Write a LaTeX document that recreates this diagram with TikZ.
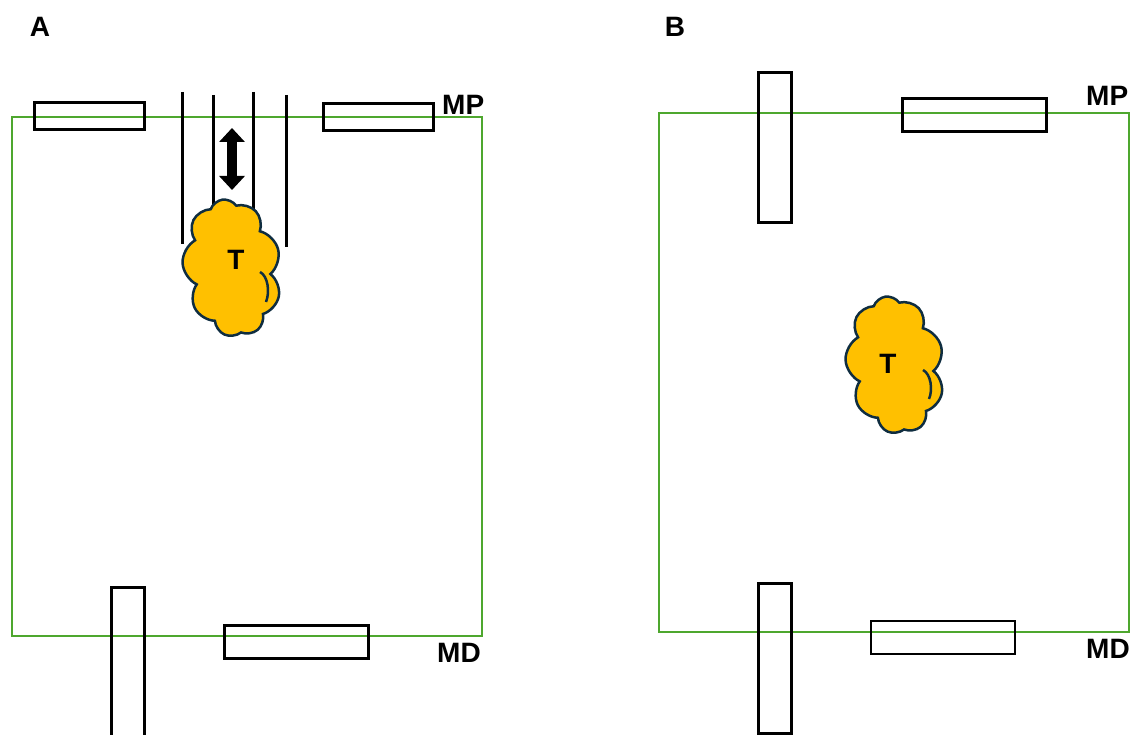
\documentclass[tikz,border=0pt]{standalone}
\usepackage{fontspec}
\setmainfont{Liberation Sans}
\usetikzlibrary{shapes.symbols,arrows.meta}
\definecolor{boxgreen}{HTML}{4EA72E}
\definecolor{cloudfill}{HTML}{FFC000}
\definecolor{cloudline}{HTML}{0F2D40}
\tikzset{
  frame/.style={draw=boxgreen,line width=2.5pt},
  probe/.style={draw=black,line width=3pt},
  thinprobe/.style={draw=black,line width=2pt},
  wire/.style={draw=black,line width=3pt},
  tumor/.style={shape=cloud,cloud puffs=9,cloud puff arc=125,aspect=0.72,
    fill=cloudfill,draw=cloudline,line width=2.5pt,inner sep=0pt,
    minimum width=98pt,minimum height=138pt},
  fold/.style={draw=cloudline,line width=2.5pt},
  tlbl/.style={font=\bfseries\fontsize{28}{30}\selectfont,inner sep=0pt},
  lbl/.style={font=\bfseries\fontsize{28}{30}\selectfont,inner sep=0pt}
}
\begin{document}
\begin{tikzpicture}[x=1pt,y=-1pt]
\useasboundingbox (0,0) rectangle (1130,735);
\clip (0,0) rectangle (1130,735);
% ---------- Panel A ----------
\node[lbl] (labA) at (40,27) {A};
\draw[frame] (12,117) rectangle (482,636);
\draw[probe] (34,103) rectangle (144,130);
\draw[probe] (323,104) rectangle (433,131);
\node[lbl,anchor=west] (mpA) at (442,105) {MP};
\draw[wire] (182,92) -- (182,244);
\draw[wire] (213,95) -- (213,215);
\draw[wire] (253,92) -- (253,215);
\draw[wire] (286,95) -- (286,247);
\coordinate (arrT) at (232,128);
\coordinate (arrB) at (232,190);
\draw[line width=10pt,{Triangle[length=14pt,width=25pt]}-{Triangle[length=14pt,width=25pt]}] (arrT) -- (arrB);
\node[tumor,rotate=8] (cloudA) at (232,268) {};
\coordinate (fA1) at (260,272);
\coordinate (fA2) at (266,302);
\draw[fold] (fA1) .. controls (268,276) and (270,292) .. (fA2);
\node[tlbl] (tA) at (236,260) {T};
\draw[probe] (111,587) rectangle (144,745);
\draw[probe] (224,625) rectangle (368,658);
\node[lbl,anchor=west] (mdA) at (437,653) {MD};
% ---------- Panel B ----------
\node[lbl] (labB) at (675,27) {B};
\draw[frame] (659,113) rectangle (1129,632);
\draw[probe] (758,73) rectangle (791,223);
\draw[probe] (902,99) rectangle (1046,132);
\node[lbl,anchor=west] (mpB) at (1086,96) {MP};
\node[tumor,rotate=8] (cloudB) at (895,365) {};
\coordinate (fB1) at (923,370);
\coordinate (fB2) at (929,399);
\draw[fold] (fB1) .. controls (931,374) and (933,390) .. (fB2);
\node[tlbl] (tB) at (888,364) {T};
\draw[probe] (758,583) rectangle (791,733);
\draw[thinprobe] (871,621) rectangle (1015,654);
\node[lbl,anchor=west] (mdB) at (1086,649) {MD};
\end{tikzpicture}
\end{document}
